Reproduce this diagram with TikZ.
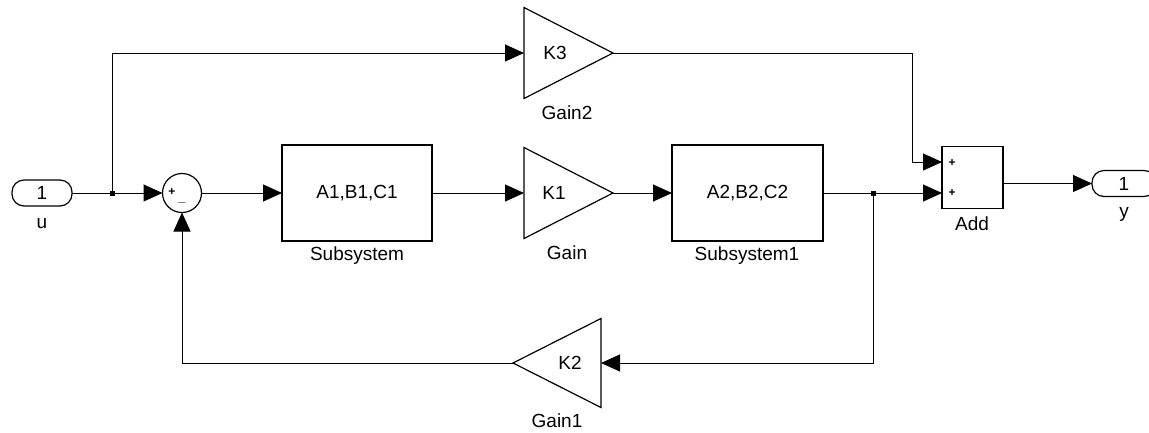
\documentclass[tikz,border=0pt]{standalone}
\usepackage{fontspec}
\setmainfont{Liberation Sans}
\usetikzlibrary{arrows.meta,shapes.geometric,calc}
\begin{document}
\begin{tikzpicture}[x=1pt,y=-1pt,
  txt/.style={font=\fontsize{19}{22}\selectfont, inner sep=0},
  lbl/.style={txt, anchor=base},
  blk/.style={draw, line width=1.2pt, rectangle, inner sep=0, outer sep=0, txt},
  tri/.style={draw, line width=1.2pt, isosceles triangle, isosceles triangle stretches,
    inner sep=0, outer sep=0, minimum width=91pt, minimum height=89pt, anchor=apex},
  port/.style={draw, line width=1.2pt, rounded corners=12pt, minimum height=26pt,
    inner sep=0, outer sep=0, txt},
  sumblk/.style={draw, circle, line width=1.2pt, minimum size=39pt, inner sep=0, outer sep=0},
  sgn/.style={font=\fontsize{12}{13}\selectfont\bfseries, inner sep=0},
  dot/.style={fill, rectangle, minimum size=5pt, inner sep=0},
  wire/.style={line width=1pt},
  sig/.style={wire, -{Triangle[length=19pt,width=17pt]}}
]
\useasboundingbox (0,0) rectangle (1149,432);

% input port and branch point
\node[port, minimum width=60pt] (in) at (42,193) {1};
\node[lbl] (inlbl) at (42,228) {u};
\node[dot] (j1) at (112,193) {};

% summing junction
\node[sumblk] (sum) at (182,193) {};
\node[sgn] (sumplus) at (172,192) {+};
\node[sgn, anchor=base, font=\fontsize{13}{14}\selectfont\bfseries] (summinus) at (182,201) {\_};

% forward path
\node[blk, minimum width=150pt, minimum height=96pt] (sub) at (357,193) {A1,B1,C1};
\node[lbl] (sublbl) at (357,260.5) {Subsystem};

\node[tri] (k1) at (613,193) {};
\node[txt] (k1txt) at (554,193) {K1};
\node[lbl] (k1lbl) at (567,259.5) {Gain};

\node[blk, minimum width=151pt, minimum height=96pt] (sub1) at (747.5,193) {A2,B2,C2};
\node[lbl] (sub1lbl) at (747,260.5) {Subsystem1};

\node[dot] (j2) at (873,193) {};

% feed-through gain
\node[tri] (k3) at (613,53) {};
\node[txt] (k3txt) at (555,53) {K3};
\node[lbl] (k3lbl) at (567,119.5) {Gain2};

% feedback gain
\node[tri, shape border rotate=180, minimum width=89pt, minimum height=88pt] (k2) at (513,363) {};
\node[txt] (k2txt) at (570,363) {K2};
\node[lbl] (k2lbl) at (557,427.5) {Gain1};

% output adder and port
\node[blk, minimum width=61pt, minimum height=62pt] (add) at (972.5,177.5) {};
\node[sgn] (addp1) at (952,162.5) {+};
\node[sgn] (addp2) at (952,193) {+};
\node[lbl] (addlbl) at (972,230.5) {Add};
\node[port, minimum width=64pt] (out) at (1124,183.5) {1};
\node[lbl] (outlbl) at (1124,217.5) {y};

\coordinate (addin1) at ($(add.north west)!0.25!(add.south west)$);

% signal lines
\draw[wire] (in.east) -- (j1.center);
\draw[sig] (j1.center) -- (sum.west);
\draw[sig] (j1.center) |- (k3.west);
\draw[sig] (sum.east) -- (sub.west);
\draw[sig] (sub.east) -- (k1.west);
\draw[sig] (k1.east) -- (sub1.west);
\draw[wire] (sub1.east) -- (j2.center);
\draw[sig] (j2.center) -- (j2.center -| add.west);
\draw[sig] (k3.east) -| ($(addin1)+(-30,0)$) -- (addin1);
\draw[sig] (add.east |- out.west) -- (out.west);
\draw[sig] (j2.center) |- (k2.east);
\draw[sig] (k2.west) -| (sum.south);
\end{tikzpicture}
\end{document}
